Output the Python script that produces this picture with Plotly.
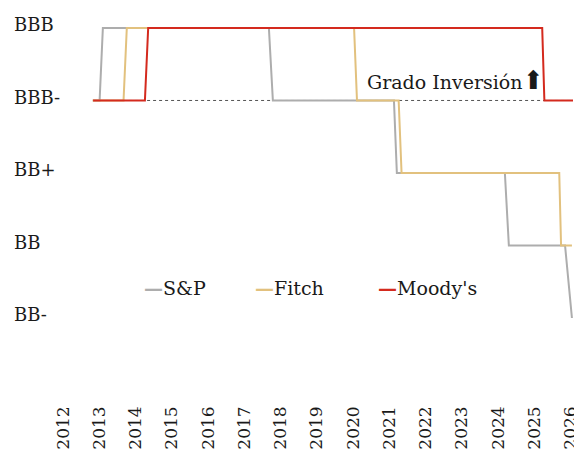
import plotly.graph_objects as go

# Rating scale (bottom to top)
ratings = ["BB-", "BB", "BB+", "BBB-", "BBB"]
years = list(range(2012, 2027))

# Series (decimal years, ratings)
sp_x = [2012.82, 2013.01, 2013.10, 2017.68, 2017.79, 2021.13, 2021.21, 2024.19, 2024.30, 2025.85, 2026.04]
sp_y = ["BBB-", "BBB-", "BBB", "BBB", "BBB-", "BBB-", "BB+", "BB+", "BB", "BB", "BB-"]

fitch_x = [2012.82, 2013.67, 2013.76, 2020.03, 2020.11, 2021.26, 2021.34, 2025.69, 2025.74, 2026.04]
fitch_y = ["BBB-", "BBB-", "BBB", "BBB", "BBB-", "BBB-", "BB+", "BB+", "BB", "BB"]

moodys_x = [2012.83, 2014.26, 2014.35, 2025.22, 2025.28, 2026.07]
moodys_y = ["BBB-", "BBB-", "BBB", "BBB", "BBB-", "BBB-"]

threshold_x = [2012.83, 2026.07]
threshold_y = ["BBB-", "BBB-"]
threshold_label = "Grado Inversión"

series_names = ["S&P", "Fitch", "Moody's"]
series_colors = ["#adadad", "#e2c17e", "#d42a1e"]

FONT = "DejaVu Serif"
TXT = "#1a1a1a"

fig = go.Figure()
fig.add_trace(go.Scatter(x=threshold_x, y=threshold_y, mode="lines",
                         line=dict(color="#555555", width=1, dash="3px,3px"),
                         showlegend=False, hoverinfo="skip"))
for xs, ys, name, col in zip([sp_x, fitch_x, moodys_x], [sp_y, fitch_y, moodys_y],
                             series_names, series_colors):
    fig.add_trace(go.Scatter(x=xs, y=ys, mode="lines", name=name,
                             line=dict(color=col, width=2), showlegend=False))

annotations = []
# y-axis rating labels
for r in ratings:
    annotations.append(dict(x=-0.099, xref="paper", y=r, yref="y", text=r,
                            showarrow=False, xanchor="left", yanchor="middle",
                            yshift=3, font=dict(family=FONT, size=18, color=TXT)))
# threshold label with arrow glyph
annotations.append(dict(x=2020.34, y=3.28, xref="x", yref="y",
                        text=threshold_label + '<span style="font-size:26px">⬆</span>',
                        showarrow=False, xanchor="left", yanchor="middle",
                        font=dict(family=FONT, size=19, color=TXT)))
# legend-like labels
legend_x = [2014.17, 2017.24, 2020.63]
for lx, name, col in zip(legend_x, series_names, series_colors):
    annotations.append(dict(x=lx, y=0.41, xref="x", yref="y",
                            text=f'<b><span style="color:{col}">—</span></b>{name}',
                            showarrow=False, xanchor="left", yanchor="middle",
                            font=dict(family=FONT, size=19, color=TXT)))

# page body has an 8px margin: size the figure to the body's content box
fig.update_layout(
    width=566, height=445,
    margin=dict(l=55, r=0, t=2, b=61, autoexpand=False),
    paper_bgcolor="white", plot_bgcolor="white",
    showlegend=False,
    annotations=annotations,
    xaxis=dict(range=[2012, 2026.097], tickvals=years, ticktext=[str(y) for y in years],
               tickangle=-90, showgrid=False, zeroline=False, showline=False,
               ticks="", ticklabelstandoff=10, automargin=False,
               ticklabeloverflow="allow",
               tickfont=dict(family=FONT, size=17, color=TXT)),
    yaxis=dict(type="category", categoryorder="array", categoryarray=ratings,
               range=[-1.021, 4.248], showticklabels=False, showgrid=False,
               zeroline=False, showline=False, ticks="", automargin=False),
)

fig.write_html("out.html")
